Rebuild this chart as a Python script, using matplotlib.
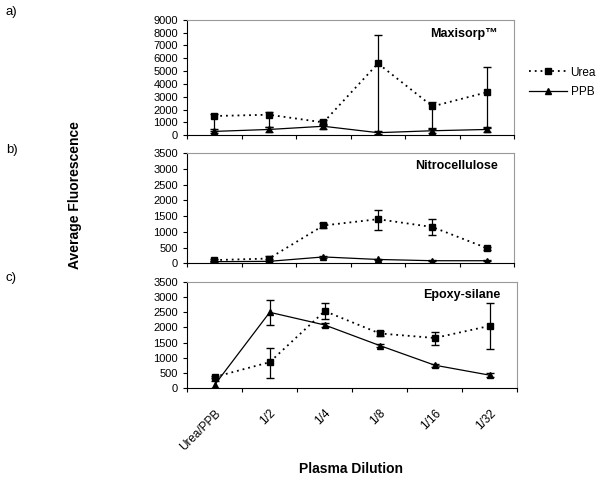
import matplotlib
matplotlib.use('Agg')
import matplotlib.pyplot as plt
from matplotlib.lines import Line2D
import numpy as np

plt.rcParams['font.family'] = ['Liberation Sans', 'DejaVu Sans']

dilutions = ['Urea/PPB', '1/2', '1/4', '1/8', '1/16', '1/32']
panel_names = ['Maxisorp\u2122', 'Nitrocellulose', 'Epoxy-silane']
panel_tags = ['a)', 'b)', 'c)']
y_max = [9000, 3500, 3500]
y_step = [1000, 500, 500]

# Urea means and asymmetric errors (lower, upper)
urea_a = [1500, 1600, 1000, 5600, 2250, 3350]
urea_a_lo = [1200, 950, 200, 5600, 1700, 2750]
urea_a_hi = [150, 250, 150, 2250, 350, 1950]
urea_b = [100, 150, 1200, 1400, 1150, 480]
urea_b_lo = [30, 80, 80, 330, 250, 50]
urea_b_hi = [30, 80, 80, 300, 250, 50]
urea_c = [360, 850, 2540, 1800, 1650, 2050]
urea_c_lo = [40, 530, 260, 80, 220, 750]
urea_c_hi = [40, 470, 260, 80, 200, 770]

ppb_a = [300, 450, 700, 200, 350, 450]
ppb_a_err = [150, 200, 200, 100, 150, 200]
ppb_b = [50, 60, 200, 120, 80, 80]
ppb_b_err = [20, 60, 30, 30, 20, 20]
ppb_c = [100, 2500, 2080, 1400, 750, 420]
ppb_c_err = [120, 420, 60, 60, 50, 60]

urea = [(urea_a, urea_a_lo, urea_a_hi), (urea_b, urea_b_lo, urea_b_hi),
        (urea_c, urea_c_lo, urea_c_hi)]
ppb = [(ppb_a, ppb_a_err), (ppb_b, ppb_b_err), (ppb_c, ppb_c_err)]

urea_style = dict(color='black', lw=1.3, ls=(0, (1, 2.2)), marker='s', ms=4.5)
ppb_style = dict(color='black', lw=0.9, ls='-', marker='^', ms=5)

fig = plt.figure(figsize=(6, 4.83), dpi=100)
boxes = [[0.312, 0.720, 0.545, 0.239],
         [0.312, 0.455, 0.545, 0.228],
         [0.312, 0.197, 0.550, 0.219]]
tag_y = [0.975, 0.69, 0.425]

x = np.arange(len(dilutions)) + 0.5
for i in range(3):
    ax = fig.add_axes(boxes[i])
    u, ulo, uhi = urea[i]
    p, perr = ppb[i]
    ax.errorbar(x, p, yerr=perr, capsize=3, elinewidth=0.9, **ppb_style)
    ax.errorbar(x, u, yerr=[ulo, uhi], capsize=3, elinewidth=0.9, **urea_style)
    ax.set_xlim(0, 6)
    ax.set_ylim(0, y_max[i])
    ax.set_yticks(np.arange(0, y_max[i] + 1, y_step[i]))
    ax.set_xticks(np.arange(0, 7))
    ax.tick_params(axis='y', labelsize=8, length=3, width=0.8, direction='out')
    ax.tick_params(axis='x', length=3, width=0.8, direction='out')
    ax.set_xticklabels([])
    for s in ['top', 'right']:
        ax.spines[s].set_color('#999999')
    for s in ['left', 'bottom']:
        ax.spines[s].set_color('black')
    ax.text(0.95, 0.88, panel_names[i], transform=ax.transAxes, ha='right',
            va='center', fontsize=9, fontweight='bold')
    fig.text(0.01, tag_y[i], panel_tags[i], fontsize=9.5, va='center')
    if i == 2:
        ax.set_xticks(x, minor=True)
        ax.set_xticklabels(dilutions, minor=True, rotation=45, ha='right',
                           rotation_mode='anchor', fontsize=8.5)
        ax.tick_params(axis='x', which='minor', length=0, pad=14)

handles = [Line2D([], [], **urea_style), Line2D([], [], **ppb_style)]
fig.legend(handles, ['Urea', 'PPB'], loc='center left',
           bbox_to_anchor=(0.882, 0.83), frameon=False, fontsize=8.5,
           handlelength=3.2, handletextpad=0.3, labelspacing=0.6,
           borderaxespad=0, borderpad=0)

fig.text(0.125, 0.596, 'Average Fluorescence', rotation=90, ha='center',
         va='center', fontsize=10, fontweight='bold')
fig.text(0.585, 0.015, 'Plasma Dilution', ha='center', va='bottom',
         fontsize=10, fontweight='bold')

fig.savefig('out.png', dpi=100)
